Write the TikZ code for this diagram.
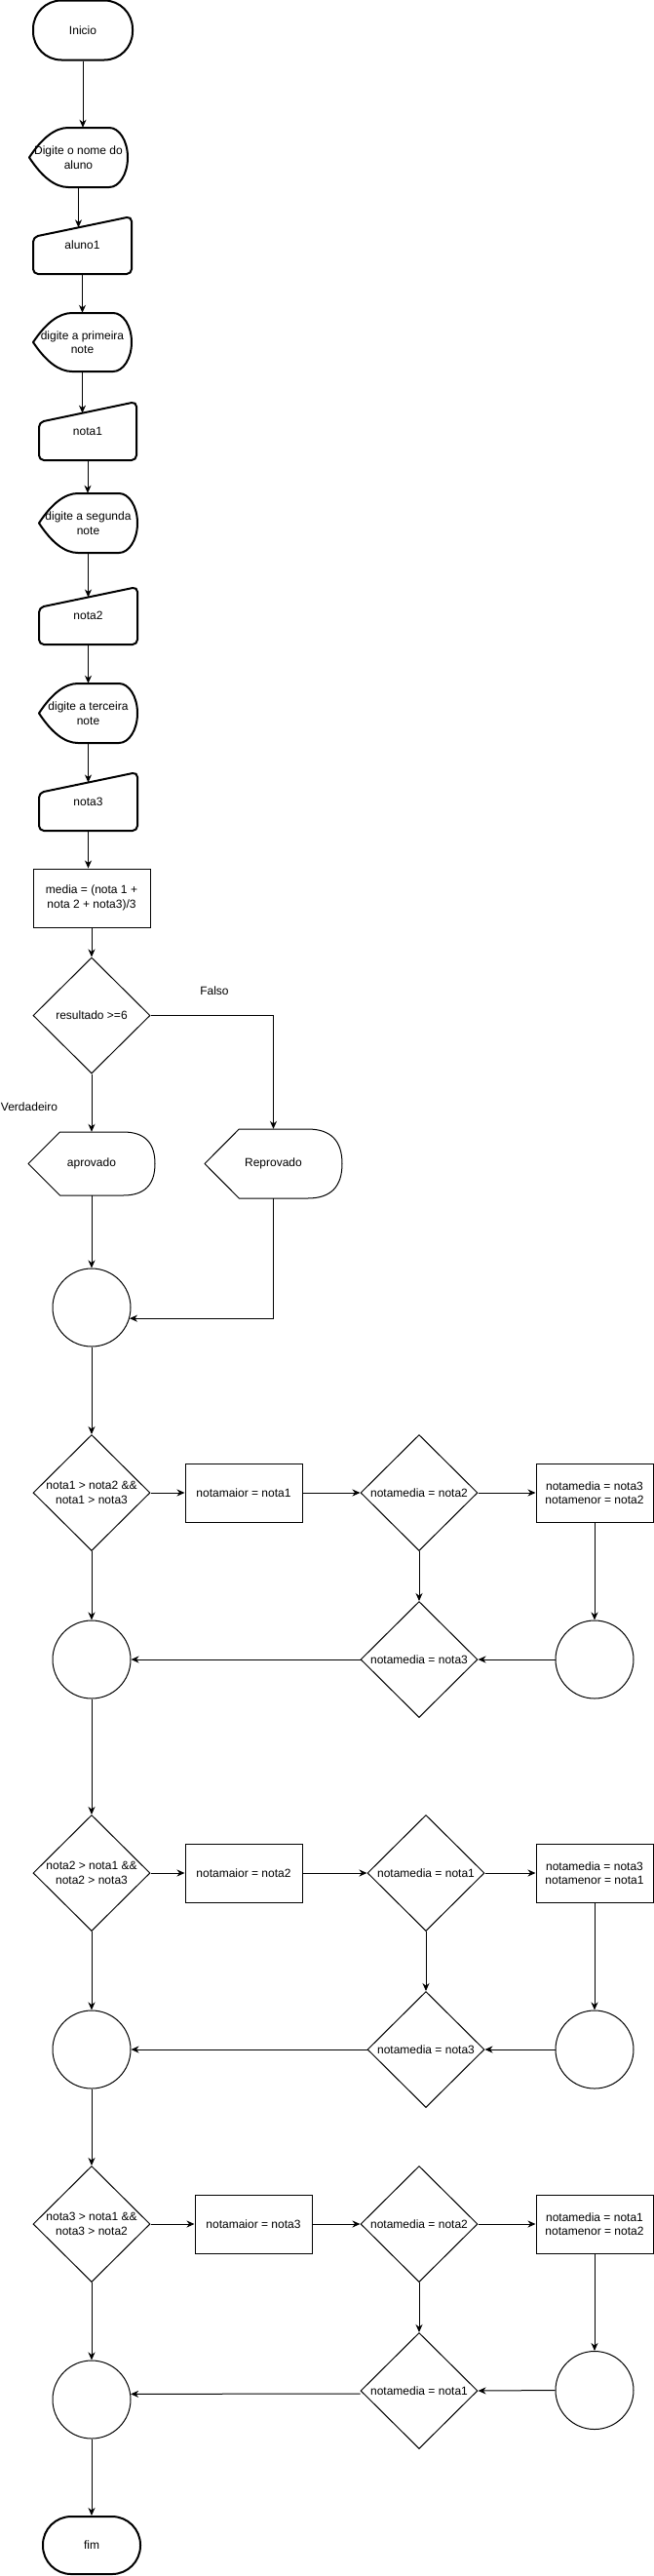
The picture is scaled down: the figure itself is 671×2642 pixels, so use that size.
\documentclass[tikz,border=0pt]{standalone}
\usepackage{fontspec}
\setmainfont{Liberation Sans}
\usetikzlibrary{arrows.meta,shapes.geometric,calc}
\tikzset{
  base/.style={font=\fontsize{12}{14.5}\selectfont, align=center, text=black},
  term/.style={base, draw, line width=2pt, rounded corners=29pt, inner sep=0pt},
  proc/.style={base, draw, line width=1pt, minimum width=120pt, minimum height=60pt, inner sep=0pt},
  dec/.style={draw, line width=1pt, diamond, minimum width=120pt, minimum height=119pt, inner sep=0pt},
  conn/.style={draw, line width=1pt, circle, minimum size=80pt, inner sep=0pt},
  box/.style={base, inner sep=0pt},
  shp/.style={line width=2pt, line join=round},
  arr/.style={line width=1pt, -{Stealth[length=8pt,width=7pt,inset=2.5pt]}},
  lbl/.style={base, inner sep=0pt},
}
% curved display shape (input prompt)
\newcommand{\dispc}[6]{%
 \begin{scope}[shift={(#2,-#3)}]
  \draw[shp] (0,-#5/2) .. controls (13.33,-#5/6) and (26.67,0) .. (40,0) -- (#4-19,0)
     arc[start angle=90, end angle=-90, x radius=19, y radius=#5/2] -- (40,-#5)
     .. controls (26.67,-#5) and (13.33,-5*#5/6) .. (0,-#5/2) -- cycle;
  \node[box, minimum width=#4pt, minimum height=#5pt] (#1) at (#4/2,-#5/2) {#6};
 \end{scope}}
% straight display shape (output)
\newcommand{\disps}[6]{%
 \begin{scope}[shift={(#2,-#3)}]
  \draw[line width=1pt, line join=round] (0,-#5/2) -- (#4/4,0) -- (3*#4/4,0)
     .. controls (#4-#4/12,0) and (#4,-#5/6) .. (#4,-#5/2)
     .. controls (#4,-5*#5/6) and (#4-#4/12,-#5) .. (3*#4/4,-#5) -- (#4/4,-#5) -- cycle;
  \node[box, minimum width=#4pt, minimum height=#5pt] (#1) at (#4/2,-#5/2) {#6};
 \end{scope}}
% manual input shape
\newcommand{\manin}[7]{%
 \begin{scope}[shift={(#2,-#3)}]
  \draw[shp, rounded corners=5pt] (0,-21) -- (#4,0) -- (#4,-#5) -- (0,-#5) -- cycle;
  \node[box, minimum width=#4pt, minimum height=#5pt] (#1) at (#4/2,-#5/2) {#6};
  \coordinate (#1-in) at (#7,{-21*(1-#7/#4)});
 \end{scope}}
\begin{document}
\begin{tikzpicture}[x=1pt,y=1pt]
\useasboundingbox (0,0) rectangle (671,-2642);
\fill[white] (0,0) rectangle (671,-2642);

% ---- input part ----
\node[term, minimum width=102pt, minimum height=61pt] (ini) at (85,-31) {Inicio};
\dispc{dig0}{30}{131}{101}{61}{Digite o nome do\\aluno}
\manin{alu}{34}{222}{101}{59}{aluno1}{46.5}
\dispc{dig1}{34}{321}{101}{60}{digite a primeira\\note}
\manin{n1}{40}{412}{100}{60}{nota1}{44.5}
\dispc{dig2}{40}{506}{101}{61}{digite a segunda\\note}
\manin{n2}{40}{602}{101}{59}{nota2}{50.5}
\dispc{dig3}{40}{701}{101}{61}{digite a terceira\\note}
\manin{n3}{40}{792}{101}{60}{nota3}{50.5}

\node[proc] (med) at (94,-921) {media = (nota 1 +\\nota 2 + nota3)/3};
\node[dec, label={[base]center:resultado >=6}] (res) at (94,-1041.5) {};
\node[lbl] (falso) at (220,-1016) {Falso};
\node[lbl] (verd) at (30,-1135) {Verdadeiro};
\disps{apr}{29}{1161}{130}{65}{aprovado}
\disps{rep}{210}{1158}{141}{71}{Reprovado}
\node[conn] (c0) at (94,-1341) {};

% ---- block 1 ----
\node[dec, label={[base]center:nota1 > nota2 \&\&\\nota1 > nota3}] (D1) at (94,-1531) {};
\node[proc] (R1) at (250,-1531) {notamaior = nota1};
\node[dec, label={[base]center:notamedia = nota2}] (E1) at (430,-1531) {};
\node[proc] (S1) at (610,-1531) {notamedia = nota3\\notamenor = nota2};
\node[conn] (C1r) at (610,-1702) {};
\node[dec, label={[base]center:notamedia = nota3}] (F1) at (430,-1702) {};
\node[conn] (C1l) at (94,-1702) {};

% ---- block 2 ----
\node[dec, label={[base]center:nota2 > nota1 \&\&\\nota2 > nota3}] (D2) at (94,-1921) {};
\node[proc] (R2) at (250,-1921) {notamaior = nota2};
\node[dec, label={[base]center:notamedia = nota1}] (E2) at (437,-1921) {};
\node[proc] (S2) at (610,-1921) {notamedia = nota3\\notamenor = nota1};
\node[conn] (C2r) at (610,-2102) {};
\node[dec, label={[base]center:notamedia = nota3}] (F2) at (437,-2102) {};
\node[conn] (C2l) at (94,-2102) {};

% ---- block 3 ----
\node[dec, label={[base]center:nota3 > nota1 \&\&\\nota3 > nota2}] (D3) at (94,-2281) {};
\node[proc] (R3) at (260,-2281) {notamaior = nota3};
\node[dec, label={[base]center:notamedia = nota2}] (E3) at (430,-2281) {};
\node[proc] (S3) at (610,-2281) {notamedia = nota1\\notamenor = nota2};
\node[conn] (C3r) at (610,-2451.5) {};
\node[dec, label={[base]center:notamedia = nota1}] (F3) at (430,-2452) {};
\node[conn] (C3l) at (94,-2461) {};
\node[term, minimum width=100pt, minimum height=59pt] (fim) at (94,-2610.5) {fim};

% ---- connectors ----
\draw[arr] (ini.south) -- (ini.south |- dig0.north);
\draw[arr] (dig0.south) -- (alu-in);
\draw[arr] (alu.south) -- (dig1.north);
\draw[arr] (dig1.south) -- (n1-in);
\draw[arr] (n1.south) -- (n1.south |- dig2.north);
\draw[arr] (dig2.south) -- (n2-in);
\draw[arr] (n2.south) -- (dig3.north);
\draw[arr] (dig3.south) -- (n3-in);
\draw[arr] (n3.south) -- (n3.south |- med.north);
\draw[arr] (med.south) -- (res.north);
\draw[arr] (res.east) -| (rep.north);
\draw[arr] (res.south) -- (apr.north);
\draw[arr] (apr.south) -- (c0.north);
\draw[arr] (rep.south) |- (c0.-16);
\draw[arr] (c0.south) -- (D1.north);

\draw[arr] (D1.east) -- (R1.west);
\draw[arr] (R1.east) -- (E1.west);
\draw[arr] (E1.east) -- (S1.west);
\draw[arr] (S1.south) -- (C1r.north);
\draw[arr] (C1r.west) -- (F1.east);
\draw[arr] (E1.south) -- (F1.north);
\draw[arr] (F1.west) -- (C1l.east);
\draw[arr] (D1.south) -- (C1l.north);
\draw[arr] (C1l.south) -- (D2.north);

\draw[arr] (D2.east) -- (R2.west);
\draw[arr] (R2.east) -- (E2.west);
\draw[arr] (E2.east) -- (S2.west);
\draw[arr] (S2.south) -- (C2r.north);
\draw[arr] (C2r.west) -- (F2.east);
\draw[arr] (E2.south) -- (F2.north);
\draw[arr] (F2.west) -- (C2l.east);
\draw[arr] (D2.south) -- (C2l.north);
\draw[arr] (C2l.south) -- (D3.north);

\draw[arr] (D3.east) -- (R3.west);
\draw[arr] (R3.east) -- (E3.west);
\draw[arr] (E3.east) -- (S3.west);
\draw[arr] (S3.south) -- (C3r.north);
\draw[arr] (C3r.west) -- (F3.east);
\draw[arr] (E3.south) -- (F3.north);
\draw[arr] ([yshift=-3pt]F3.west) -- (C3l.8.6);
\draw[arr] (D3.south) -- (C3l.north);
\draw[arr] (C3l.south) -- (fim.north);
\end{tikzpicture}
\end{document}
